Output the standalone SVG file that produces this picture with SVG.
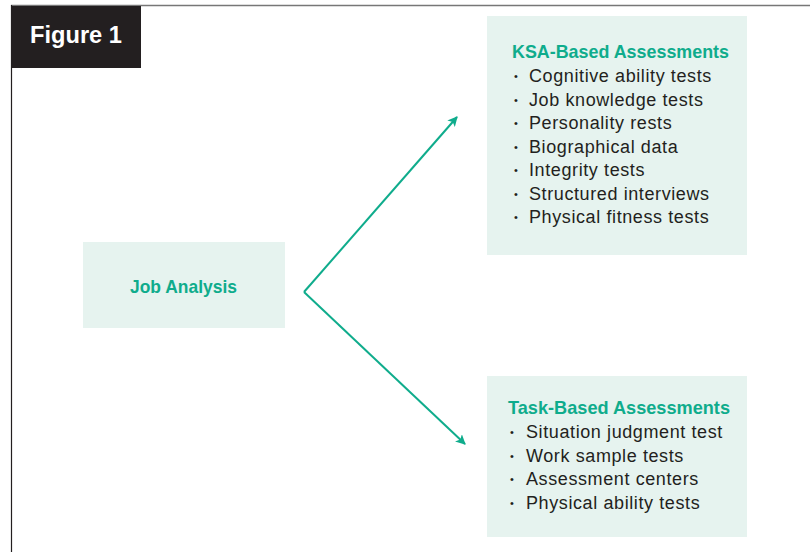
<svg xmlns="http://www.w3.org/2000/svg" width="810" height="552" viewBox="0 0 810 552">
<defs>
<style>
.box{fill:#e6f3ef;}
.ttl{font-family:"Liberation Sans",Arial,sans-serif;font-weight:bold;font-size:19px;fill:#0fac8c;}
.itm{font-family:"Liberation Sans",Arial,sans-serif;font-size:18px;letter-spacing:0.6px;fill:#231f20;}
.bul{font-family:"Liberation Sans",Arial,sans-serif;font-size:11px;fill:#231f20;}
.conn{stroke:#0fac8c;stroke-width:2;fill:none;}
</style>
<marker id="ah" markerWidth="10" markerHeight="10" refX="9" refY="5" orient="auto" markerUnits="userSpaceOnUse">
<path d="M0,0 L10,5 L0,10 L2.5,5 Z" fill="#0fac8c"/>
</marker>
</defs>
<rect width="810" height="552" fill="#ffffff"/>
<g id="frame">
<line x1="11" y1="5.5" x2="810" y2="5.5" stroke="#777777" stroke-width="1.5"/>
<line x1="11.5" y1="5" x2="11.5" y2="552" stroke="#231f20" stroke-width="1.2"/>
<rect x="11" y="6" width="130" height="62" fill="#231f20"/>
<text x="30" y="43" font-family="Liberation Sans,Arial,sans-serif" font-weight="bold" font-size="23.5" fill="#ffffff" textLength="92" lengthAdjust="spacingAndGlyphs">Figure 1</text>
</g>
<g id="connectors">
<path class="conn" d="M304,292 L457,117" marker-end="url(#ah)"/>
<path class="conn" d="M304,292 L465,444" marker-end="url(#ah)"/>
</g>
<g id="job-analysis">
<rect class="box" x="83" y="242" width="202" height="86"/>
<text class="ttl" x="130" y="293" textLength="107" lengthAdjust="spacingAndGlyphs">Job Analysis</text>
</g>
<g id="ksa">
<rect class="box" x="487" y="16" width="260" height="239"/>
<text class="ttl" x="512" y="58" textLength="217" lengthAdjust="spacingAndGlyphs">KSA-Based Assessments</text>
<g class="bul">
<text x="514" y="80">•</text>
<text x="514" y="103.5">•</text>
<text x="514" y="127">•</text>
<text x="514" y="150.5">•</text>
<text x="514" y="174">•</text>
<text x="514" y="197.5">•</text>
<text x="514" y="221">•</text>
</g>
<g class="itm">
<text x="529" y="82">Cognitive ability tests</text>
<text x="529" y="105.5">Job knowledge tests</text>
<text x="529" y="129">Personality rests</text>
<text x="529" y="152.5">Biographical data</text>
<text x="529" y="176">Integrity tests</text>
<text x="529" y="199.5">Structured interviews</text>
<text x="529" y="223">Physical fitness tests</text>
</g>
</g>
<g id="task">
<rect class="box" x="487" y="376" width="260" height="161"/>
<text class="ttl" x="508" y="414" textLength="222" lengthAdjust="spacingAndGlyphs">Task-Based Assessments</text>
<g class="bul">
<text x="510" y="436">•</text>
<text x="510" y="459.5">•</text>
<text x="510" y="483">•</text>
<text x="510" y="506.5">•</text>
</g>
<g class="itm">
<text x="526" y="438">Situation judgment test</text>
<text x="526" y="461.5">Work sample tests</text>
<text x="526" y="485">Assessment centers</text>
<text x="526" y="508.5">Physical ability tests</text>
</g>
</g>
</svg>
